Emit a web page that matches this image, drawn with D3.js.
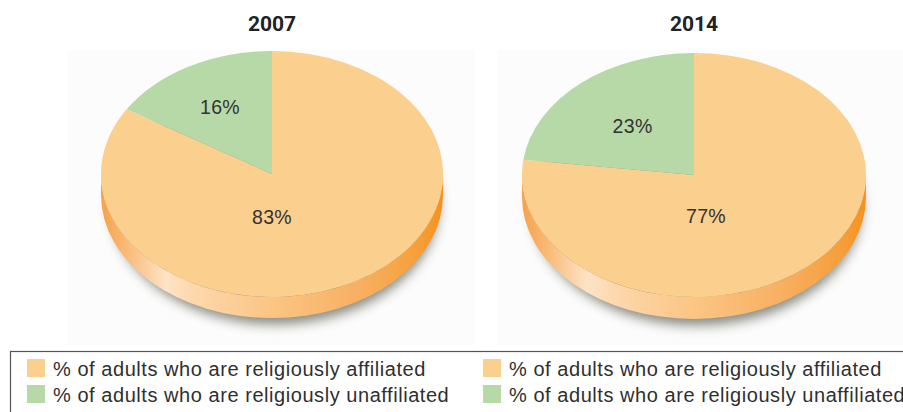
<!DOCTYPE html>
<html>
<head>
<meta charset="utf-8">
<script src="https://cdn.jsdelivr.net/npm/d3@7"></script>
<style>
  html, body { margin: 0; padding: 0; background: #ffffff; }
  svg { display: block; }
</style>
</head>
<body>
<svg id="chart" width="903" height="412"></svg>
<script>
// Survey years and the share of adults in each group
const years = ["2007", "2014"];
const categories = ["% of adults who are religiously affiliated", "% of adults who are religiously unaffiliated"];
const affiliated = [83, 77];
const unaffiliated = [16, 23];
const sliceLabels = [["83%", "16%"], ["77%", "23%"]];

const colors = ["#fbcf8e", "#b6d9a7"];

const W = 903, H = 412;
const svg = d3.select("#chart");

// Geometry of each tilted pie
const layout = [
  { cx: 272, cy: 174, rx: 171, ry: 123, depth: 21, bigDx: 0, bigDy: 50, smallR: 1.25, panelX: 67, panelW: 408 },
  { cx: 694, cy: 175, rx: 172, ry: 122, depth: 22, bigDx: 12, bigDy: 48, smallR: 1.08, panelX: 497, panelW: 406 }
];

const defs = svg.append("defs");

// Side wall gradient: warm orange at both ends with a pale highlight on the left
const grad = defs.append("linearGradient")
  .attr("id", "sideGrad").attr("x1", "0%").attr("x2", "100%").attr("y1", "0%").attr("y2", "0%");
[
  [0, "#f6a24a"], [0.08, "#f9bc7a"], [0.19, "#fee3c6"], [0.27, "#fdd7ad"],
  [0.5, "#fbc584"], [0.75, "#f8b062"], [0.92, "#f6a03c"], [1, "#f4931e"]
].forEach(([o, c]) => grad.append("stop").attr("offset", o).attr("stop-color", c));

const blur = defs.append("filter").attr("id", "shadowBlur")
  .attr("x", "-30%").attr("y", "-60%").attr("width", "160%").attr("height", "220%");
blur.append("feGaussianBlur").attr("stdDeviation", 6);

const pie = d3.pie().sort(null);

years.forEach((year, i) => {
  const L = layout[i];
  const values = [affiliated[i], unaffiliated[i]];
  const arcs = pie(values);
  const k = L.ry / L.rx;
  const arc = d3.arc().innerRadius(0).outerRadius(L.rx);

  // faint panel behind each pie
  svg.append("rect").attr("x", L.panelX).attr("y", 50).attr("width", L.panelW).attr("height", 295)
    .attr("fill", "#fcfcfc");

  const g = svg.append("g");

  // soft drop shadow under the disc
  g.append("ellipse")
    .attr("cx", L.cx + 3).attr("cy", L.cy + L.depth + 9)
    .attr("rx", L.rx * 0.96).attr("ry", L.ry * 0.98)
    .attr("fill", "#66665a").attr("opacity", 0.75)
    .attr("filter", "url(#shadowBlur)");

  // side wall of the disc
  const x0 = L.cx - L.rx, x1 = L.cx + L.rx, y0 = L.cy, y1 = L.cy + L.depth;
  g.append("path")
    .attr("d", `M${x0},${y0} A${L.rx},${L.ry} 0 0 0 ${x1},${y0} L${x1},${y1} A${L.rx},${L.ry} 0 0 1 ${x0},${y1} Z`)
    .attr("fill", "url(#sideGrad)");

  // top face: circular arcs squashed vertically
  const top = g.append("g").attr("transform", `translate(${L.cx},${L.cy}) scale(1,${k})`);
  top.selectAll("path").data(arcs).join("path")
    .attr("d", arc)
    .attr("fill", (d, j) => colors[j]);

  // slice labels
  const labelArc = d3.arc().innerRadius(0).outerRadius(L.rx * L.smallR);
  arcs.forEach((d, j) => {
    let x, y;
    if (j === 0) {
      x = L.cx + L.bigDx; y = L.cy + L.bigDy;
    } else {
      const c = labelArc.centroid(d);
      x = L.cx + c[0]; y = L.cy + c[1] * k + 7;
    }
    g.append("text")
      .attr("x", x).attr("y", y)
      .attr("text-anchor", "middle")
      .attr("font-family", "Liberation Sans, Arial, sans-serif")
      .attr("font-size", 19.5)
      .attr("letter-spacing", 0.3)
      .attr("fill", "#333")
      .text(sliceLabels[i][j]);
  });

  // year title
  svg.append("text")
    .attr("x", L.cx).attr("y", 31)
    .attr("text-anchor", "middle")
    .attr("font-family", "Roboto, sans-serif")
    .attr("font-weight", 700)
    .attr("font-size", 21)
    .attr("fill", "#222")
    .text(year);
});

// Legend box, repeated for each pie
svg.append("rect")
  .attr("x", 10.5).attr("y", 351.5).attr("width", 1000).attr("height", 100)
  .attr("fill", "#ffffff").attr("stroke", "#555").attr("stroke-width", 1.2);

const legendCols = [27, 483];
legendCols.forEach(lx => {
  categories.forEach((cat, j) => {
    const ly = 359 + j * 26;
    svg.append("rect")
      .attr("x", lx).attr("y", ly).attr("width", 18).attr("height", 18)
      .attr("fill", colors[j]);
    svg.append("text")
      .attr("x", lx + 26).attr("y", ly + 16.5)
      .attr("font-family", "Liberation Sans, Arial, sans-serif")
      .attr("font-size", 20)
      .attr("letter-spacing", 0.55)
      .attr("fill", "#2f2f2f")
      .text(cat);
  });
});
</script>
</body>
</html>
